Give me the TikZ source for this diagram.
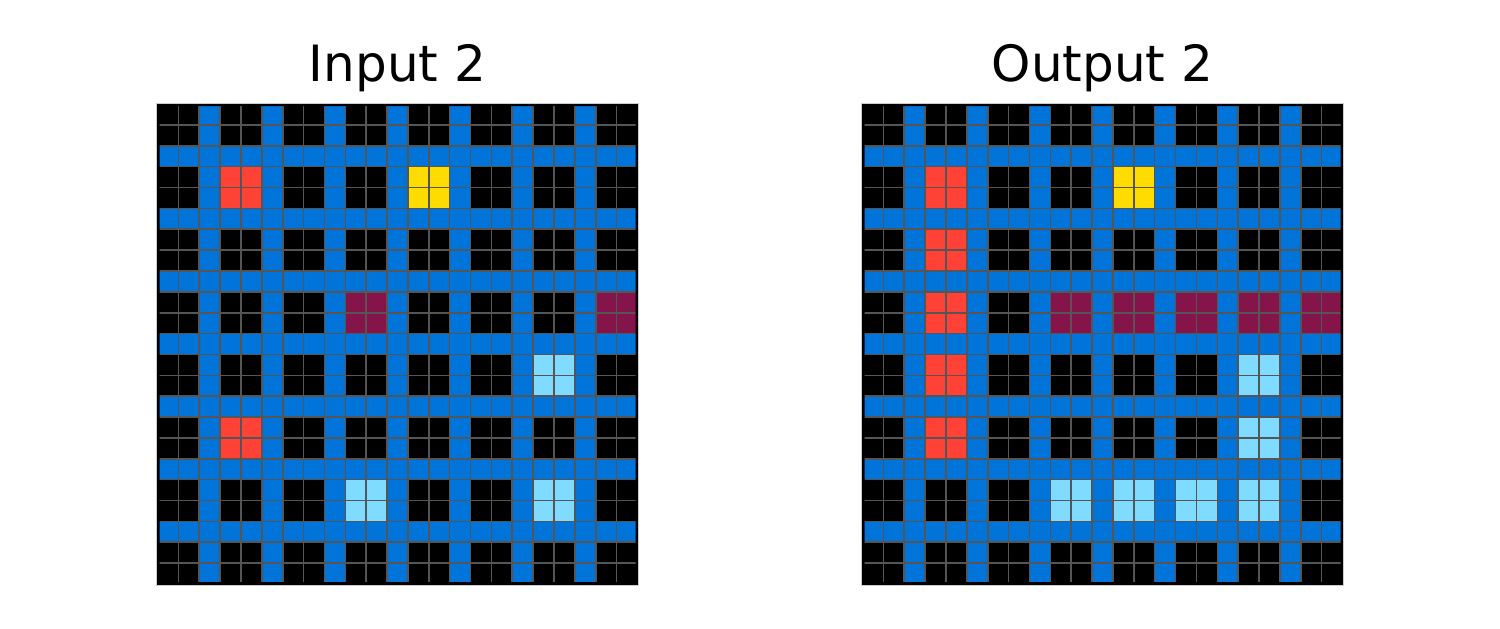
\documentclass[tikz,border=0pt]{standalone}
\usepackage{fontspec}
\setmainfont{DejaVu Sans}
\definecolor{arcblue}{HTML}{0074D9}
\definecolor{arcred}{HTML}{FF4136}
\definecolor{arcyellow}{HTML}{FFDC00}
\definecolor{arcmaroon}{HTML}{85144B}
\definecolor{arclight}{HTML}{7FDBFF}
\definecolor{gridgrey}{HTML}{555555}
\newcommand\cw{20.87}
\newcommand\arcgrid[2]{%
 \begin{scope}[shift={(#1,104)}]
  \fill[black] (0,0) rectangle (480,480);
  \foreach \c in {2,5,...,20} {
    \fill[arcblue] (\c*\cw,0) rectangle ({(\c+1)*\cw},480);
    \fill[arcblue] (0,\c*\cw) rectangle (480,{(\c+1)*\cw});
  }
  \foreach \i/\j/\col in {#2} {
    \fill[\col] ({3*\j*\cw},{3*\i*\cw}) rectangle ({(3*\j+2)*\cw},{(3*\i+2)*\cw});
  }
  \foreach \k in {1,...,22} {
    \draw[gridline] (\k*\cw,0) -- (\k*\cw,480);
    \draw[gridline] (0,\k*\cw) -- (480,\k*\cw);
  }
  \fill[black, even odd rule] (-1,-1) rectangle (481,481) (2,2) rectangle (478,478);
  \draw[black!20, line width=0.6pt] (-1,-1) rectangle (481,481);
 \end{scope}}
\begin{document}
\begin{tikzpicture}[x=1pt,y=-1pt,
  title/.style={font=\fontsize{50}{60}\selectfont, anchor=base, inner sep=0pt},
  gridline/.style={draw=gridgrey, line width=1.6pt}]
\useasboundingbox[fill=white] (0,0) rectangle (1500,629);
\arcgrid{157.5}{1/1/arcred, 1/4/arcyellow, 3/3/arcmaroon, 3/7/arcmaroon, 4/6/arclight, 5/1/arcred, 6/3/arclight, 6/6/arclight}
\arcgrid{862.5}{1/1/arcred, 2/1/arcred, 3/1/arcred, 4/1/arcred, 5/1/arcred, 1/4/arcyellow, 3/3/arcmaroon, 3/4/arcmaroon, 3/5/arcmaroon, 3/6/arcmaroon, 3/7/arcmaroon, 4/6/arclight, 5/6/arclight, 6/6/arclight, 6/3/arclight, 6/4/arclight, 6/5/arclight}
\node[title] (tin) at (397.5,81.7) {Input 2};
\node[title] (tout) at (1102.5,81.7) {Output 2};
\end{tikzpicture}
\end{document}
